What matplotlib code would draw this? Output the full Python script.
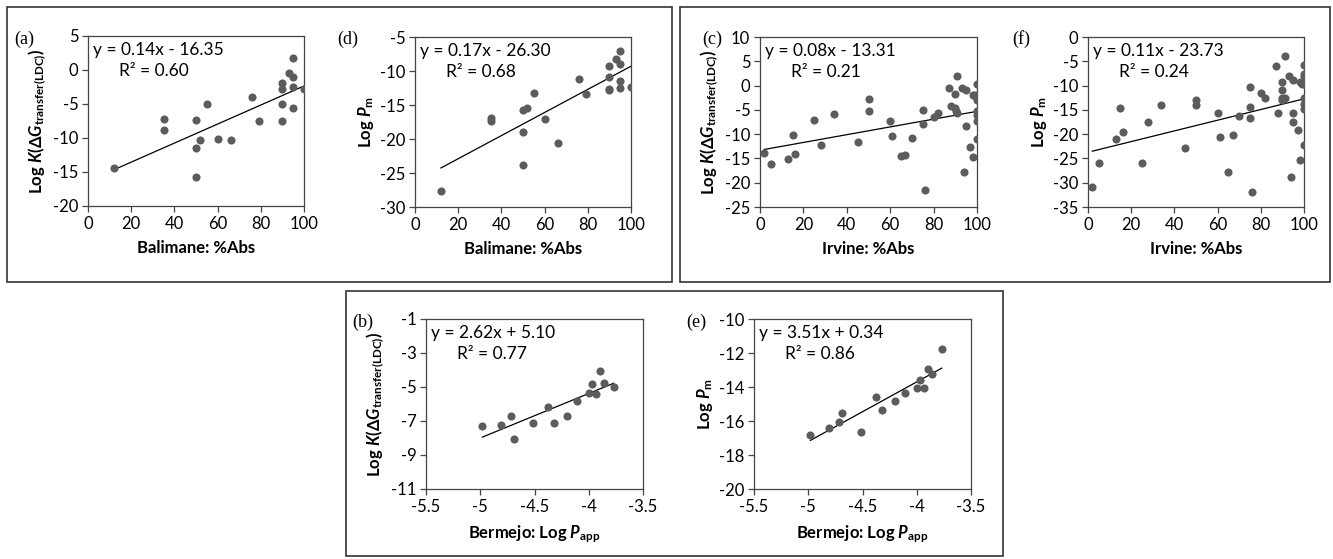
import numpy as np
import matplotlib
matplotlib.use("Agg")
import matplotlib.pyplot as plt
from matplotlib.patches import Rectangle

plt.rcParams['font.family'] = ['Lato', 'DejaVu Sans']
plt.rcParams['mathtext.fontset'] = 'custom'
plt.rcParams['mathtext.rm'] = 'Lato:bold'
plt.rcParams['mathtext.bf'] = 'Lato:bold'
plt.rcParams['mathtext.it'] = 'Lato:bold:italic'
plt.rcParams['mathtext.bfit'] = 'Lato:bold:italic'

# ---------------- data ----------------
bal_x = [12, 35, 35, 50, 50, 50, 52, 55, 60, 66, 76, 79, 90, 90, 90, 90, 93, 95, 95, 95, 95, 100]
a_y = [-14.46, -7.2, -8.8, -7.3, -11.5, -15.7, -10.3, -4.95, -10.15, -10.3, -4.0, -7.45,
       -1.9, -2.8, -5.05, -7.55, -0.5, 1.7, -1.0, -2.45, -5.55, -2.85]
d_y = [-27.7, -16.85, -17.3, -15.7, -18.9, -23.85, -15.4, -13.2, -17.1, -20.6, -11.2, -13.45,
       -9.25, -10.9, -12.6, -12.8, -8.2, -7.1, -9.0, -11.5, -12.5, -12.3]

c_x = [2, 5, 13, 15, 16, 25, 28, 34, 45, 50, 50, 60, 61, 65, 67, 70, 75, 75, 76, 80, 82,
       87, 88, 90, 90, 90.5, 91, 91, 93, 95, 95, 97, 98, 94, 98, 98.5,
       100, 100, 100, 100, 100, 100, 100]
c_y = [-13.9, -16.2, -15.2, -10.1, -14.1, -7.0, -12.2, -5.9, -11.6, -2.8, -5.2, -7.3, -10.4,
       -14.5, -14.3, -10.8, -5.0, -8.0, -21.5, -6.55, -5.6,
       -0.5, -4.2, -4.55, -1.7, -5.2, -5.7, 1.9, -0.6, -0.9, -8.3, -12.7, -14.8, -17.8, -1.9, -2.0,
       0.3, -2.0, -3.0, -5.3, -6.0, -7.3, -11.0]

f_x = [2, 5, 13, 15, 16, 25, 28, 34, 45, 50, 50, 60, 61, 65, 67, 70, 75, 75, 75, 76, 80, 82,
       87, 88, 90, 90, 90, 90, 91, 91, 93, 94, 95, 95, 95, 97, 98, 98, 99,
       100, 100, 100, 100, 100, 100, 100, 100]
f_y = [-30.8, -26.0, -21.0, -14.6, -19.6, -25.9, -17.5, -14.1, -22.8, -13.0, -14.1, -15.7, -20.6,
       -27.7, -20.2, -16.3, -10.2, -14.5, -16.6, -31.9, -11.6, -12.6,
       -5.9, -15.7, -9.3, -10.9, -12.5, -13.0, -4.0, -12.6, -8.1, -28.9, -8.8, -15.7, -17.5,
       -19.1, -25.4, -9.3, -9.7,
       -5.7, -7.7, -8.1, -9.7, -12.6, -13.7, -14.8, -22.3]

ber_x = [-4.98, -4.81, -4.72, -4.69, -4.515, -4.38, -4.32, -4.2, -4.11, -4.0, -3.97, -3.93,
         -3.90, -3.86, -3.77]
b_y = [-7.3, -7.22, -6.71, -8.03, -7.09, -6.18, -7.09, -6.71, -5.83, -5.33, -4.80, -5.43,
       -4.06, -4.76, -4.98]
e_y = [-16.85, -16.44, -16.05, -15.54, -16.62, -14.61, -15.38, -14.83, -14.33, -14.08, -13.61,
       -14.08, -12.92, -13.21, -11.74]

fits = {'a': (0.14, -16.35, 0.60), 'd': (0.17, -26.30, 0.68), 'c': (0.08, -13.31, 0.21),
        'f': (0.11, -23.73, 0.24), 'b': (2.62, 5.10, 0.77), 'e': (3.51, 0.34, 0.86)}

ylab_K = r'Log $\mathit{K}$($\mathrm{\Delta}$$\mathit{G}_{\mathrm{transfer(LDC)}}$)'
ylab_P = r'Log $\mathit{P}_{\mathrm{m}}$'
xlab_bal = 'Balimane: %Abs'
xlab_irv = 'Irvine: %Abs'
xlab_ber = r'Bermejo: Log $\mathit{P}_{\mathrm{app}}$'

W, H = 1333, 559
fig = plt.figure(figsize=(W / 100, H / 100), dpi=100)


def ax_px(l, t, r, b):
    return fig.add_axes([l / W, 1 - b / H, (r - l) / W, (b - t) / H])


panels = [
    ('a', (88, 36, 304, 206), bal_x, a_y, (0, 100), (-20, 5), np.arange(-20, 6, 5),
     np.arange(0, 101, 20), xlab_bal, ylab_K, (14, 39)),
    ('d', (415, 37, 631, 207), bal_x, d_y, (0, 100), (-30, -5), np.arange(-30, -4, 5),
     np.arange(0, 101, 20), xlab_bal, ylab_P, (337, 39)),
    ('c', (760, 37, 977, 207), c_x, c_y, (0, 100), (-25, 10), np.arange(-25, 11, 5),
     np.arange(0, 101, 20), xlab_irv, ylab_K, (702, 39)),
    ('f', (1088, 37, 1304, 207), f_x, f_y, (0, 100), (-35, 0), np.arange(-35, 1, 5),
     np.arange(0, 101, 20), xlab_irv, ylab_P, (1012, 39)),
    ('b', (426, 319, 643, 489), ber_x, b_y, (-5.5, -3.5), (-11, -1), np.arange(-11, 0, 2),
     np.arange(-5.5, -3.4, 0.5), xlab_ber, ylab_K, (352, 322)),
    ('e', (754, 319, 971, 489), ber_x, e_y, (-5.5, -3.5), (-20, -10), np.arange(-20, -9, 2),
     np.arange(-5.5, -3.4, 0.5), xlab_ber, ylab_P, (686, 322)),
]

tick_font = 12
for key, rect, xs, ys, xlim, ylim, yt, xt, xl, yl, lp in panels:
    ax = ax_px(*rect)
    ax.scatter(xs, ys, s=34, color='#5c5c5c', zorder=3, linewidths=0)
    m, c, r2 = fits[key]
    xx = np.array([min(xs), max(xs)])
    ax.plot(xx, m * xx + c, color='black', lw=0.9, zorder=2)
    ax.set_xlim(*xlim)
    ax.set_ylim(*ylim)
    ax.set_yticks(yt)
    ax.set_xticks(xt)
    ax.set_yticklabels([f'{v:g}' for v in yt], fontsize=tick_font)
    ax.set_xticklabels([f'{v:g}' for v in xt], fontsize=tick_font)
    ax.tick_params(direction='out', length=4, width=0.9, color='#444444', pad=3)
    for s in ax.spines.values():
        s.set_color('#444444')
        s.set_linewidth(0.9)
    ax.set_xlabel(xl, fontsize=12, fontweight='bold', labelpad=6)
    ax.set_ylabel(yl, fontsize=12, fontweight='bold', labelpad=3)
    sign = '-' if c < 0 else '+'
    ax.text(5 / (rect[2] - rect[0]), 1 - 14 / (rect[3] - rect[1]),
            f'y = {m:.2f}x {sign} {abs(c):.2f}', transform=ax.transAxes,
            fontsize=12.5, va='center', ha='left')
    ax.text(31 / (rect[2] - rect[0]), 1 - 35 / (rect[3] - rect[1]),
            f'R² = {r2:.2f}', transform=ax.transAxes, fontsize=12.5, va='center', ha='left')
    fig.text(lp[0] / W, 1 - lp[1] / H, f'({key})', family='Liberation Serif',
             fontsize=13, va='center', ha='left')

for (l, t, r, b) in [(7, 7, 672, 282), (680, 7, 1330, 282), (346, 291, 1003, 556)]:
    fig.add_artist(Rectangle((l / W, 1 - b / H), (r - l) / W, (b - t) / H,
                             transform=fig.transFigure, fill=False,
                             edgecolor='#333333', linewidth=1.2))

fig.savefig('out.png', dpi=100)
